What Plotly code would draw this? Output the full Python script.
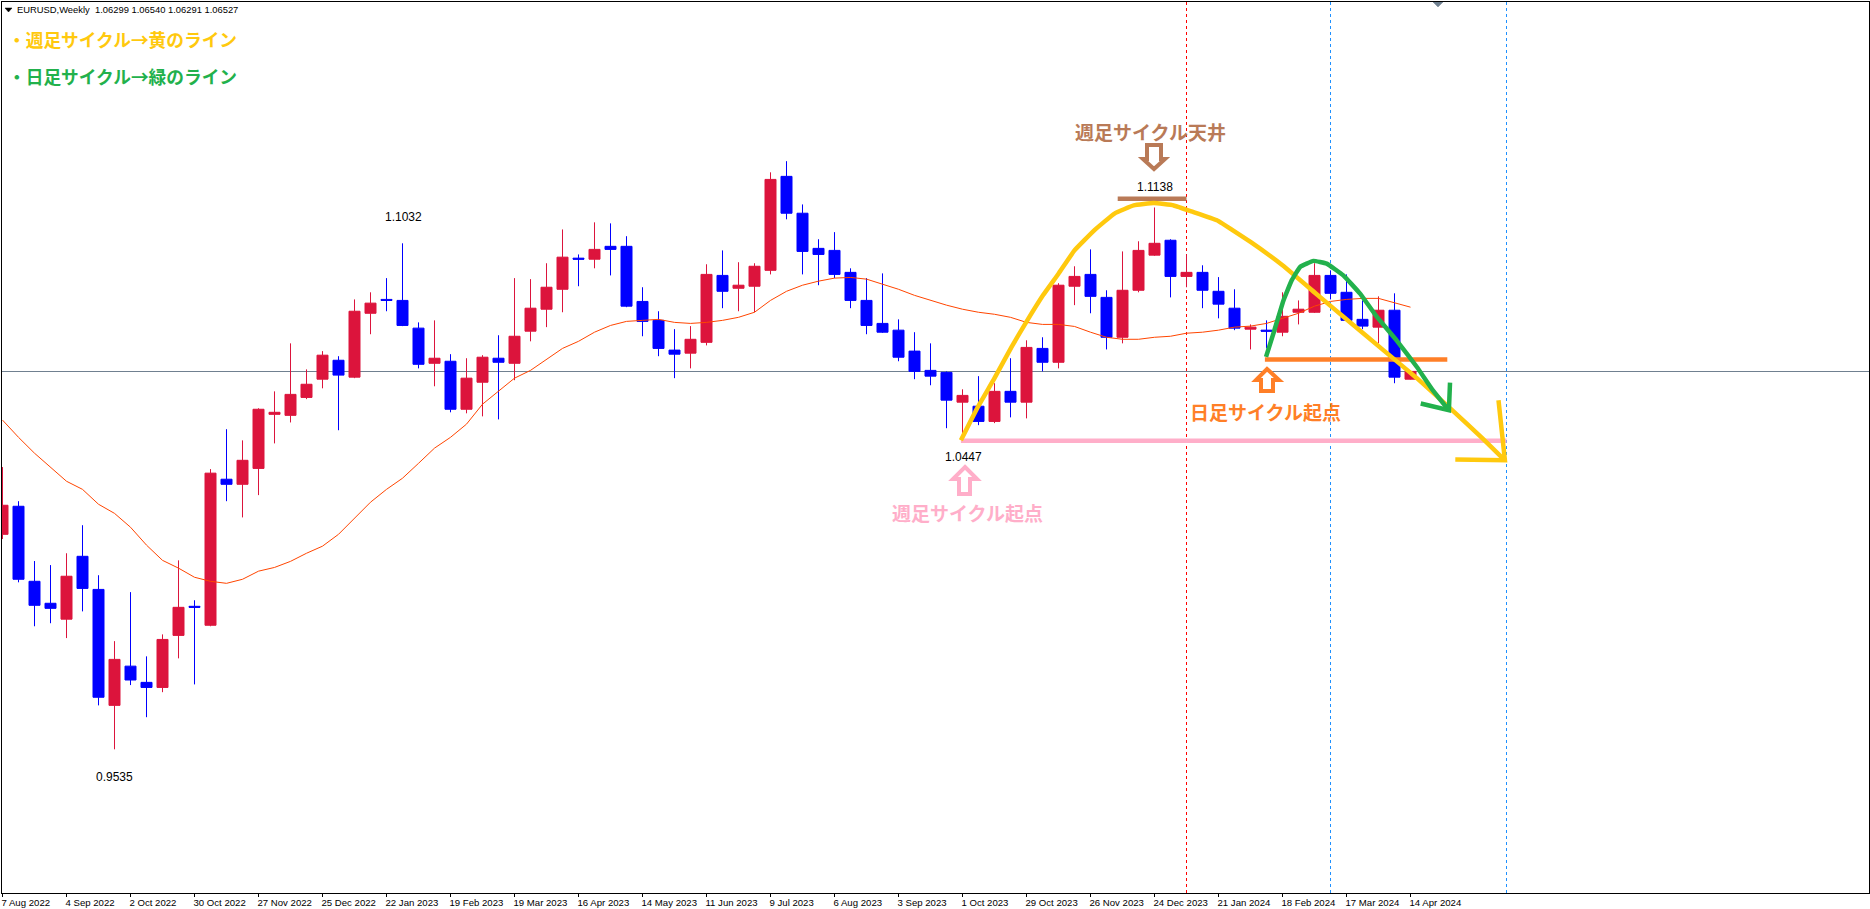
import plotly.graph_objects as go

# ---- weekly EURUSD candles ----
highs = [1.0370,1.0269,1.0092,1.0080,1.0115,1.0198,1.0050,0.9855,1.0000,0.9810,0.9875,1.0094,0.9976,1.0364,1.0482,1.0449,1.0544,
         1.0594,1.0736,1.0659,1.0713,1.0698,1.0866,1.0887,1.0929,1.1032,1.0798,1.0804,1.0704,1.0692,1.0701,1.0760,1.0929,1.0926,
         1.0973,1.1073,1.0999,1.1094,1.1091,1.1053,1.0902,1.0831,1.0778,1.0787,1.0970,1.1011,1.0976,1.0973,1.1242,1.1275,1.1147,
         1.1044,1.1065,1.0958,1.0929,1.0943,1.0807,1.0769,1.0736,1.0653,1.0600,1.0639,1.0618,1.0692,1.0745,1.0754,1.0914,1.0964,
         1.1014,1.0893,1.1008,1.1038,1.1138,1.1044,1.0999,1.0967,1.0932,1.0896,1.0792,1.0804,1.0887,1.0863,1.0973,1.0952,1.0940,
         1.0863,1.0875,1.0884,1.0654]
tops = [1.0257,1.0254,1.0032,0.9967,1.0047,1.0106,1.0008,0.9801,0.9781,0.9733,0.9860,0.9955,0.9958,1.0352,1.0334,1.0390,1.0541,
        1.0532,1.0585,1.0615,1.0701,1.0686,1.0831,1.0855,1.0866,1.0863,1.0781,1.0692,1.0683,1.0633,1.0695,1.0692,1.0757,1.0840,
        1.0902,1.0991,1.0988,1.1014,1.1023,1.1023,1.0860,1.0804,1.0716,1.0748,1.0940,1.0937,1.0908,1.0964,1.1221,1.1230,1.1121,
        1.1017,1.1011,1.0946,1.0863,1.0795,1.0775,1.0713,1.0656,1.0650,1.0582,1.0550,1.0594,1.0594,1.0724,1.0721,1.0908,1.0934,
        1.0940,1.0872,1.0893,1.1011,1.1032,1.1041,1.0946,1.0946,1.0890,1.0840,1.0784,1.0775,1.0816,1.0837,1.0937,1.0937,1.0887,
        1.0807,1.0834,1.0834,1.0653]
bottoms = [1.0171,1.0038,0.9961,0.9952,0.9920,1.0011,0.9689,0.9665,0.9740,0.9718,0.9718,0.9872,0.9955,0.9902,1.0319,1.0319,1.0366,
           1.0526,1.0523,1.0576,1.0630,1.0642,1.0636,1.0825,1.0863,1.0789,1.0674,1.0677,1.0541,1.0541,1.0621,1.0680,1.0677,1.0772,
           1.0837,1.0896,1.0985,1.0985,1.1014,1.0846,1.0801,1.0721,1.0704,1.0707,1.0739,1.0890,1.0899,1.0905,1.0952,1.1121,1.1008,
           1.0999,1.0940,1.0863,1.0789,1.0769,1.0695,1.0653,1.0639,1.0568,1.0562,1.0505,1.0505,1.0562,1.0562,1.0680,1.0680,1.0905,
           1.0875,1.0754,1.0754,1.0893,1.0997,1.0934,1.0934,1.0893,1.0852,1.0781,1.0778,1.0772,1.0769,1.0828,1.0828,1.0884,1.0804,
           1.0787,1.0784,1.0636,1.0630]
lows = [1.0157,1.0029,0.9899,0.9908,0.9864,0.9943,0.9665,0.9535,0.9725,0.9630,0.9704,0.9804,0.9727,0.9899,1.0269,1.0221,1.0287,
        1.0440,1.0502,1.0571,1.0603,1.0479,1.0633,1.0763,1.0831,1.0787,1.0662,1.0609,1.0532,1.0529,1.0520,1.0511,1.0627,1.0742,
        1.0784,1.0828,1.0905,1.0958,1.0937,1.0843,1.0757,1.0698,1.0633,1.0662,1.0730,1.0840,1.0831,1.0828,1.0940,1.1103,1.0940,
        1.0908,1.0929,1.0840,1.0763,1.0767,1.0683,1.0630,1.0612,1.0485,1.0447,1.0494,1.0500,1.0517,1.0514,1.0653,1.0662,1.0849,
        1.0825,1.0718,1.0736,1.0887,1.0995,1.0872,1.0902,1.0840,1.0810,1.0775,1.0718,1.0721,1.0757,1.0792,1.0826,1.0866,1.0801,
        1.0778,1.0736,1.0618,1.0629]
# True = bullish (crimson body), False = bearish (blue body)
bullish = [1,0,0,0,1,0,0,1,0,0,1,1,0,1,0,1,1,1,1,1,1,0,1,1,0,0,0,1,0,1,1,0,1,1,1,1,0,1,0,0,0,0,0,1,1,0,1,1,1,0,0,0,0,0,0,0,0,0,0,0,
           1,0,1,0,1,0,1,1,0,0,1,1,1,0,1,0,0,0,1,0,1,1,1,0,0,0,1,0,1]
opens = [b if u else t for t, b, u in zip(tops, bottoms, bullish)]
closes = [t if u else b for t, b, u in zip(tops, bottoms, bullish)]

ma_values = [1.0509,1.0458,1.0411,1.0369,1.0328,1.0304,1.0260,1.0233,1.0192,1.0139,1.0094,1.0071,1.0044,1.0032,1.0026,1.0038,1.0062,
             1.0073,1.0091,1.0115,1.0136,1.0171,1.0218,1.0266,1.0304,1.0337,1.0381,1.0426,1.0458,1.0497,1.0556,1.0594,1.0633,1.0656,
             1.0689,1.0721,1.0742,1.0769,1.0789,1.0801,1.0804,1.0807,1.0798,1.0795,1.0798,1.0804,1.0813,1.0828,1.0863,1.0890,1.0908,
             1.0920,1.0929,1.0931,1.0926,1.0911,1.0896,1.0878,1.0863,1.0849,1.0837,1.0828,1.0822,1.0813,1.0798,1.0792,1.0792,1.0786,
             1.0769,1.0754,1.0748,1.0748,1.0754,1.0757,1.0766,1.0769,1.0775,1.0784,1.0787,1.0795,1.0810,1.0825,1.0846,1.0860,1.0866,
             1.0869,1.0869,1.0855,1.0843]

tick_labels = ["7 Aug 2022","4 Sep 2022","2 Oct 2022","30 Oct 2022","27 Nov 2022","25 Dec 2022","22 Jan 2023","19 Feb 2023",
               "19 Mar 2023","16 Apr 2023","14 May 2023","11 Jun 2023","9 Jul 2023","6 Aug 2023","3 Sep 2023","1 Oct 2023",
               "29 Oct 2023","26 Nov 2023","24 Dec 2023","21 Jan 2024","18 Feb 2024","17 Mar 2024","14 Apr 2024"]

last_price = 1.06527
red_vlines = [74]
blue_vlines = [83, 94]

# hand-drawn overlay lines, in chart units (candle index, price)
yellow_x = [59.9,60.96,62.0,63.06,64.05,65.03,66.0,67.0,68.25,69.5,70.7,71.96,73.2,74.4,75.9,78.0,80.0,82.1,84.2,86.3,88.4,90.5,92.5,93.9]
yellow_y = [1.0449,1.0548,1.0633,1.0725,1.0804,1.0878,1.0942,1.1011,1.1071,1.1120,1.1144,1.1151,1.1144,1.1125,1.1100,1.1036,1.0967,1.0883,1.0799,1.0716,1.0633,1.0543,1.0455,1.0390]
yellow_head_x = [93.5,93.9,90.8]
yellow_head_y = [1.0568,1.0390,1.0392]
green_x = [78.97,79.43,80.06,80.58,81.1,81.93,82.76,83.8,84.85,85.9,87.13,88.4,89.4,90.4]
green_y = [1.0696,1.0765,1.0863,1.0923,1.0962,1.0980,1.0972,1.0937,1.0883,1.0814,1.0745,1.0666,1.0597,1.0538]
green_head_x = [90.47,90.4,88.64]
green_head_y = [1.0620,1.0538,1.0558]
brown_level = (69.7,74.0,1.1164)
pink_level = (59.9,94.0,1.0448)
orange_level = (78.9,90.3,1.0688)

W, H = 1870, 909
L, R, T, B = 2, 1869, 2, 893
X0 = 2.5; STEP = 16.0
P0 = 1.17518; PPP = 0.00029585
to_i = lambda x: (x - X0) / STEP
to_p = lambda y: P0 - PPP * y
index = list(range(len(highs)))

fig = go.Figure()
fig.add_trace(go.Candlestick(
    x=index, open=opens, high=highs, low=lows, close=closes,
    increasing=dict(line=dict(color="#DC143C", width=1), fillcolor="#DC143C"),
    decreasing=dict(line=dict(color="#0000FF", width=1), fillcolor="#0000FF"),
    whiskerwidth=0, showlegend=False))
fig.add_trace(go.Scatter(x=index, y=ma_values, mode="lines",
                         line=dict(color="#FF4500", width=1), showlegend=False))

def stroke(xs, ys, color, width):
    fig.add_trace(go.Scatter(x=xs, y=ys, mode="lines", showlegend=False,
                             line=dict(color=color, width=width, shape="spline", smoothing=0.3)))

for lvl, col in [(pink_level, "#FFAEC9"), (brown_level, "#B97A57"), (orange_level, "#FF7F27")]:
    fig.add_trace(go.Scatter(x=[lvl[0], lvl[1]], y=[lvl[2], lvl[2]], mode="lines", showlegend=False,
                             line=dict(color=col, width=4.5)))
stroke(yellow_x, yellow_y, "#FFC90E", 4.5)
fig.add_trace(go.Scatter(x=yellow_head_x, y=yellow_head_y, mode="lines", showlegend=False,
                         line=dict(color="#FFC90E", width=4.5)))
stroke(green_x, green_y, "#22B14C", 4.5)
fig.add_trace(go.Scatter(x=green_head_x, y=green_head_y, mode="lines", showlegend=False,
                         line=dict(color="#22B14C", width=4.5)))

shapes = [dict(type="line", xref="paper", yref="y", x0=0, x1=1, y0=last_price, y1=last_price,
               line=dict(color="#708090", width=1), layer="below")]
for v in red_vlines:
    shapes.append(dict(type="line", xref="x", yref="paper", x0=v, x1=v, y0=0, y1=1,
                       line=dict(color="#FF0000", width=1, dash="3px,3px"), layer="below"))
for v in blue_vlines:
    shapes.append(dict(type="line", xref="x", yref="paper", x0=v, x1=v, y0=0, y1=1,
                       line=dict(color="#1E90FF", width=1, dash="3px,3px"), layer="below"))

def poly(points, color, fill=None, width=4):
    d = "M " + " L ".join(f"{to_i(x):.4f},{to_p(y):.5f}" for x, y in points) + " Z"
    shapes.append(dict(type="path", xref="x", yref="y", path=d, fillcolor=fill or "rgba(0,0,0,0)",
                       line=dict(color=color, width=width)))

# outlined hand-drawn arrows
poly([(1147,145),(1161,145),(1161,159),(1165,159),(1154,169),(1143,159),(1147,159)], "#B97A57")
poly([(1267,369),(1279,380),(1273,380),(1273,391),(1261,391),(1261,380),(1256,380)], "#FF7F27")
poly([(965,467),(977,479),(970,479),(970,494),(959,494),(959,479),(953,479)], "#FFAEC9")
# header triangle and chart-shift marker
poly([(5,8),(12,8),(8.5,12)], "#000000", "#000000", 0.5)
poly([(1433,2),(1443,2),(1438,7)], "#708090", "#708090", 0.5)

def px(x): return (x - L) / (R - L)
def py(y): return (B - y) / (B - T)

def text(x, y, s, color, size, family, anchor="center", weight=None):
    f = dict(color=color, size=size, family=family)
    if weight: f["weight"] = weight
    return dict(xref="paper", yref="paper", x=px(x), y=py(y), text=s, showarrow=False,
                xanchor=anchor, yanchor="middle", font=f, borderpad=0, borderwidth=0)

JP = "Noto Sans CJK JP"
LAT = "Liberation Sans"
annotations = [
    text(17, 10, "EURUSD,Weekly&nbsp;&nbsp;1.06299 1.06540 1.06291 1.06527", "#000000", 9.4, LAT, "left"),
    text(8, 39, "・週足サイクル→黄のライン", "#FFC90E", 17.7, JP, "left", 700),
    text(8, 76, "・日足サイクル→緑のライン", "#22B14C", 17.7, JP, "left", 700),
    text(1150, 131, "週足サイクル天井", "#B97A57", 19, JP, weight=700),
    text(968, 512, "週足サイクル起点", "#FFAEC9", 19, JP, weight=700),
    text(1265, 411.5, "日足サイクル起点", "#FF7F27", 19, JP, weight=700),
    text(403, 217, "1.1032", "#000000", 12, LAT),
    text(114.5, 777, "0.9535", "#000000", 12, LAT),
    text(1154.5, 187, "1.1138", "#000000", 12, LAT),
    text(963, 457, "1.0447", "#000000", 12, LAT),
]

fig.update_layout(
    width=W, height=H, autosize=False,
    margin=dict(l=L, r=W - R, t=T, b=H - B, pad=0),
    paper_bgcolor="#FFFFFF", plot_bgcolor="#FFFFFF",
    showlegend=False, shapes=shapes, annotations=annotations,
    boxgap=0.2, boxgroupgap=0.14,
    xaxis=dict(type="linear", range=[to_i(L), to_i(R)], rangeslider=dict(visible=False),
               tickmode="array", tickvals=[i * 4 for i in range(len(tick_labels))], ticktext=tick_labels,
               ticks="outside", ticklen=3, tickwidth=1, tickcolor="#000000",
               ticklabelposition="outside right", ticklabelshift=-2, tickangle=0, automargin=False,
               tickfont=dict(family=LAT, size=9.6, color="#000000"),
               showline=True, linecolor="#000000", linewidth=1, mirror=True, showgrid=False, zeroline=False),
    yaxis=dict(range=[to_p(B), to_p(T)], showticklabels=False, ticks="", automargin=False,
               showline=True, linecolor="#000000", linewidth=1, mirror=True, showgrid=False, zeroline=False),
)
fig.write_html("out.html", config=dict(displayModeBar=False),
               post_script="document.body.style.margin='0';document.body.style.overflow='hidden';")
